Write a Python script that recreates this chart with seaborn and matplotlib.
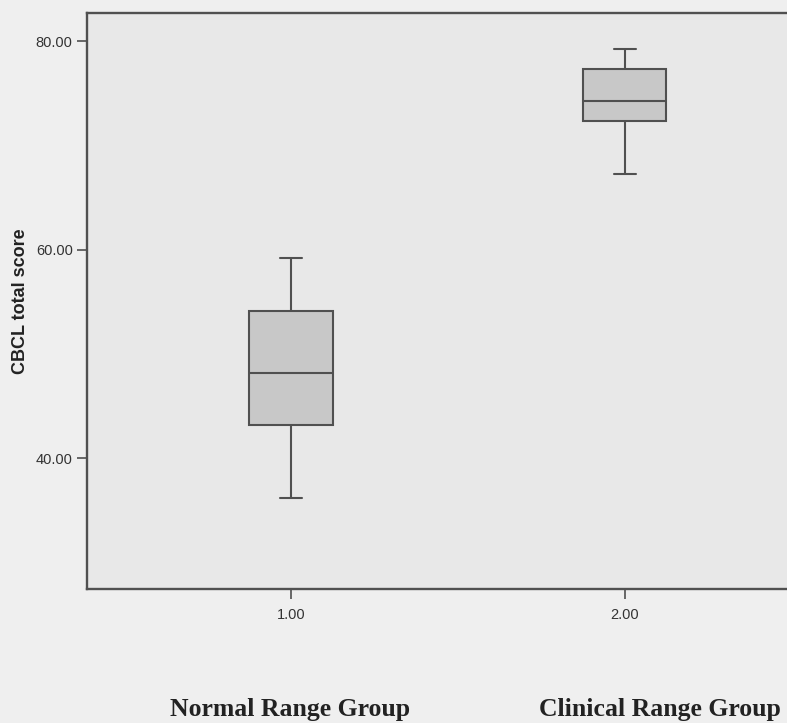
import numpy as np
import pandas as pd
import seaborn as sns
from matplotlib import pyplot as plt

# five-number summaries: min, Q1, median, Q3, max
groups = ["1.00", "2.00"]
normal_scores = [36.2, 43.2, 48.2, 54.1, 59.2]
clinical_scores = [67.3, 72.3, 74.3, 77.3, 79.2]
group_names = ["Normal Range Group", "Clinical Range Group"]
y_ticks = [40, 60, 80]

df = pd.DataFrame({
    "group": [groups[0]] * len(normal_scores) + [groups[1]] * len(clinical_scores),
    "score": normal_scores + clinical_scores,
})

sns.set_style("white")
plt.rcParams["font.family"] = ["Liberation Sans", "DejaVu Sans"]

line_c = "#505050"
fig = plt.figure(figsize=(7.87, 7.23), dpi=100, facecolor="#efefef")
ax = fig.add_axes([0.110, 0.1853, 0.938, 0.797])
ax.set_facecolor("#e8e8e8")

sns.boxplot(
    data=df, x="group", y="score", order=groups, ax=ax,
    color="#c8c8c8", width=0.25, whis=(0, 100), linecolor=line_c,
    linewidth=1.5, saturation=1, capwidths=0.066,
)

ax.set_xlim(-0.612, 1.6)
ax.set_ylim(27.46, 82.71)
ax.set_yticks(y_ticks)
ax.set_yticklabels([f"{t:.2f}" for t in y_ticks])
ax.tick_params(axis="both", direction="out", length=7, width=1.2,
               color=line_c, labelcolor="#333333", labelsize=10.5,
               left=True, bottom=True)
ax.tick_params(axis="x", pad=7)
ax.tick_params(axis="y", pad=3)
ax.set_xlabel("")
ax.set_ylabel("CBCL total score", fontsize=13, fontweight="bold",
              color="#222222", labelpad=5)
for side in ["top", "left", "bottom", "right"]:
    ax.spines[side].set_color(line_c)
    ax.spines[side].set_linewidth(1.7)

for name, xpix in zip(group_names, [290, 660]):
    fig.text(xpix / 787, 1 - 716 / 723, name, ha="center", va="baseline",
             fontsize=18.5, fontweight="bold", family=["Liberation Serif"],
             color="#222222")

fig.savefig("out.png", dpi=100, facecolor=fig.get_facecolor())
